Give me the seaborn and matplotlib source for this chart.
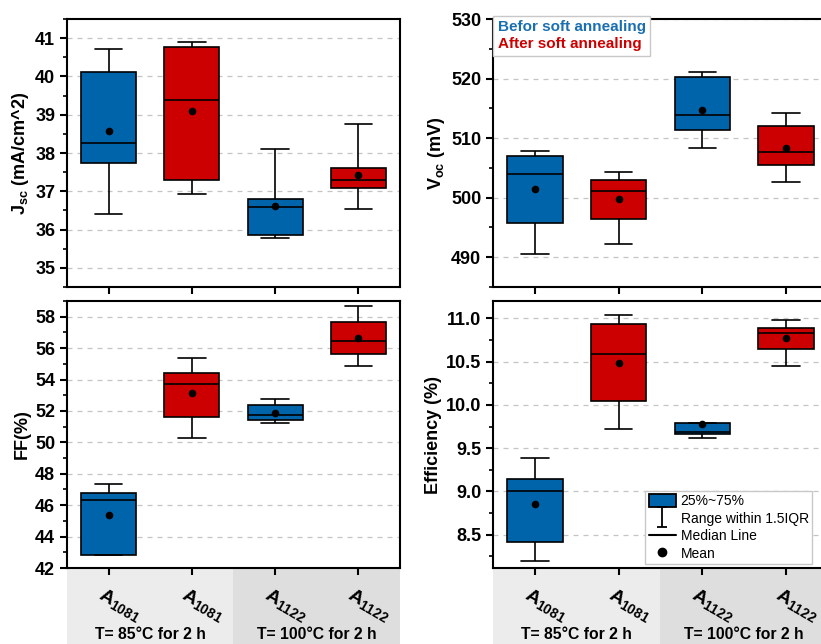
import matplotlib
matplotlib.use("Agg")
import matplotlib.pyplot as plt
import matplotlib.transforms as mtransforms
import numpy as np
import pandas as pd
import seaborn as sns
from matplotlib.lines import Line2D
from matplotlib.patches import Patch, Rectangle
from matplotlib.path import Path
from matplotlib.ticker import MultipleLocator, FormatStrFormatter

sns.set_style("ticks")
plt.rcParams.update({'font.family'        : ['Liberation Sans', 'DejaVu Sans'],
                     'font.size'          : 12,
                     'mathtext.fontset'   : 'custom',
                     'mathtext.rm'        : 'Liberation Sans',
                     'mathtext.it'        : 'Liberation Sans:italic',
                     'mathtext.bf'        : 'Liberation Sans:bold',
                     'axes.linewidth'     : 1.5,
                     'axes.edgecolor'     : 'black',
                     'axes.labelcolor'    : 'black',
                     'text.color'         : 'black',
                     'xtick.color'        : 'black',
                     'ytick.color'        : 'black'})

#-- data --
groups      = ["A1081 before", "A1081 after", "A1122 before", "A1122 after"]
states      = ["before", "after", "before", "after"]
tick_labels = [r"$\mathbf{A_{1081}}$", r"$\mathbf{A_{1081}}$",
               r"$\mathbf{A_{1122}}$", r"$\mathbf{A_{1122}}$"]
conditions  = ["T= 85°C for 2 h", "T= 100°C for 2 h"]

# box statistics: lower whisker, Q1, median, Q3, upper whisker, mean
jsc_low  = [36.42, 36.93, 35.79, 36.53]
jsc_q1   = [37.73, 37.30, 35.87, 37.08]
jsc_med  = [38.27, 39.39, 36.58, 37.30]
jsc_q3   = [40.12, 40.76, 36.81, 37.61]
jsc_high = [40.72, 40.89, 38.10, 38.76]
jsc_mean = [38.58, 39.10, 36.61, 37.43]

voc_low  = [490.6, 492.3, 508.4, 502.7]
voc_q1   = [495.8, 496.4, 511.3, 505.5]
voc_med  = [503.9, 501.2, 513.9, 507.6]
voc_q3   = [507.0, 503.0, 520.3, 512.1]
voc_high = [507.9, 504.3, 521.1, 514.2]
voc_mean = [501.5, 499.7, 514.8, 508.3]

ff_low   = [42.81, 50.27, 51.26, 54.86]
ff_q1    = [42.81, 51.64, 51.43, 55.65]
ff_med   = [46.34, 53.70, 51.77, 56.47]
ff_q3    = [46.75, 54.42, 52.36, 57.64]
ff_high  = [47.34, 55.37, 52.77, 58.70]
ff_mean  = [45.39, 53.17, 51.90, 56.62]

eff_low  = [8.20, 9.717, 9.617, 10.445]
eff_q1   = [8.415, 10.045, 9.663, 10.64]
eff_med  = [9.00, 10.584, 9.69, 10.827]
eff_q3   = [9.14, 10.935, 9.79, 10.89]
eff_high = [9.386, 11.035, 9.79, 10.985]
eff_mean = [8.855, 10.48, 9.78, 10.77]

blue    = '#0064AA'
red     = '#CC0000'
palette = {"before": blue, "after": red}


def make_df(low, q1, med, q3, high):
    rows = []
    for ii in range(len(groups)):
        for val in (low[ii], q1[ii], med[ii], q3[ii], high[ii]):
            rows.append({"group": groups[ii], "state": states[ii], "value": val})
    return pd.DataFrame(rows)


def draw_panel(ax, df, means, ylabel, ylim, major, minor, fmt, bottom_row):
    sns.boxplot(data=df, x="group", y="value", hue="state", order=groups,
                hue_order=["before", "after"], palette=palette, dodge=False,
                whis=(0, 100), width=0.66, linecolor="black", linewidth=1.2,
                showfliers=False, legend=False, saturation=1, ax=ax)
    sns.stripplot(x=groups, y=means, order=groups, jitter=False, color="black",
                  size=5.5, zorder=5, ax=ax)
    ax.set_xlim(-0.5, 3.5)
    ax.set_ylim(*ylim)
    ax.yaxis.set_major_locator(MultipleLocator(major))
    ax.yaxis.set_minor_locator(MultipleLocator(minor))
    ax.yaxis.set_major_formatter(FormatStrFormatter(fmt))
    ax.yaxis.grid(True, which='major', linestyle=(0, (4, 4)), color='#c4c4c4', linewidth=0.9)
    ax.set_axisbelow(True)
    for sp in ax.spines.values():
        sp.set_linewidth(1.5)
        sp.set_visible(True)
    ax.tick_params(axis='both', which='major', direction='out', length=5, width=1.5,
                   labelsize=13)
    ax.tick_params(axis='y', which='minor', direction='out', length=3, width=1.2)
    for lab in ax.get_yticklabels():
        lab.set_fontweight('bold')
    ax.set_ylabel(ylabel, fontsize=13, fontweight='bold', labelpad=3)
    ax.set_xlabel("")
    ax.set_xticks(range(len(groups)))
    if bottom_row:
        ax.set_xticklabels(tick_labels, rotation=-30, ha='center', fontsize=14)
        ax.tick_params(axis='x', pad=7)
        off = mtransforms.ScaledTranslation(0.11, 0, ax.figure.dpi_scale_trans)
        for lab in ax.get_xticklabels():
            lab.set_transform(lab.get_transform() + off)
        trans = mtransforms.blended_transform_factory(ax.transData, ax.transAxes)
        ax.add_patch(Rectangle((-0.5, -0.29), 2, 0.29, transform=trans, facecolor='#ececec',
                               edgecolor='none', clip_on=False, zorder=-1))
        ax.add_patch(Rectangle((1.5, -0.29), 2, 0.29, transform=trans, facecolor='#dedede',
                               edgecolor='none', clip_on=False, zorder=-1))
        ax.text(0.5, -0.248, conditions[0], transform=trans, ha='center', va='center',
                fontsize=11.3, fontweight='bold')
        ax.text(2.5, -0.248, conditions[1], transform=trans, ha='center', va='center',
                fontsize=11.3, fontweight='bold')
    else:
        ax.tick_params(axis='x', labelbottom=False)


fig = plt.figure(figsize=(8.21, 6.44), dpi=100)
ax_jsc = fig.add_axes([0.0816, 0.5543, 0.4056, 0.4161])
ax_voc = fig.add_axes([0.6005, 0.5543, 0.4080, 0.4161])
ax_ff  = fig.add_axes([0.0816, 0.1180, 0.4056, 0.4146])
ax_eff = fig.add_axes([0.6005, 0.1180, 0.4080, 0.4146])

draw_panel(ax_jsc, make_df(jsc_low, jsc_q1, jsc_med, jsc_q3, jsc_high), jsc_mean,
           r"$\mathbf{J_{sc}}$ (mA/cm^2)", (34.5, 41.5), 1, 0.5, '%d', False)
draw_panel(ax_voc, make_df(voc_low, voc_q1, voc_med, voc_q3, voc_high), voc_mean,
           r"$\mathbf{V_{oc}}$ (mV)", (485, 530), 10, 5, '%d', False)
draw_panel(ax_ff, make_df(ff_low, ff_q1, ff_med, ff_q3, ff_high), ff_mean,
           "FF(%)", (42, 59), 2, 1, '%d', True)
draw_panel(ax_eff, make_df(eff_low, eff_q1, eff_med, eff_q3, eff_high), eff_mean,
           "Efficiency (%)", (8.115, 11.2), 0.5, 0.25, '%.1f', True)

# legend with coloured text
leg1 = ax_voc.legend([Patch(visible=False), Patch(visible=False)],
                     ["Befor soft annealing", "After soft annealing"],
                     loc='upper left', bbox_to_anchor=(0.0, 1.012), labelcolor=['#1a6fb0', red],
                     handlelength=0, handletextpad=0, borderaxespad=0, borderpad=0.3,
                     labelspacing=0.2, frameon=True, fancybox=False, edgecolor='#c8c8c8',
                     framealpha=1, prop={'weight': 'bold', 'size': 11})

# legend explaining box elements
ibar = Path([(-0.5, 1), (0.5, 1), (0, 1), (0, -1), (-0.5, -1), (0.5, -1)],
            [Path.MOVETO, Path.LINETO, Path.MOVETO, Path.LINETO, Path.MOVETO, Path.LINETO])
handles = [Patch(facecolor=blue, edgecolor='black', linewidth=1.3),
           Line2D([], [], marker=ibar, linestyle='none', color='black', markersize=15,
                  markeredgewidth=1.3, markerfacecolor='none'),
           Line2D([], [], color='black', linewidth=1.5),
           Line2D([], [], marker='o', linestyle='none', color='black', markersize=6)]
leg2 = ax_eff.legend(handles, ["25%~75%", "Range within 1.5IQR", "Median Line", "Mean"],
                     loc='lower left', bbox_to_anchor=(0.454, 0.015), borderaxespad=0,
                     handlelength=2.0, handleheight=1.0, handletextpad=0.3,
                     labelspacing=0.25, borderpad=0.25, frameon=True, fancybox=False,
                     edgecolor='#c8c8c8', framealpha=1, prop={'size': 10})

plt.savefig('out.png', dpi=100)
